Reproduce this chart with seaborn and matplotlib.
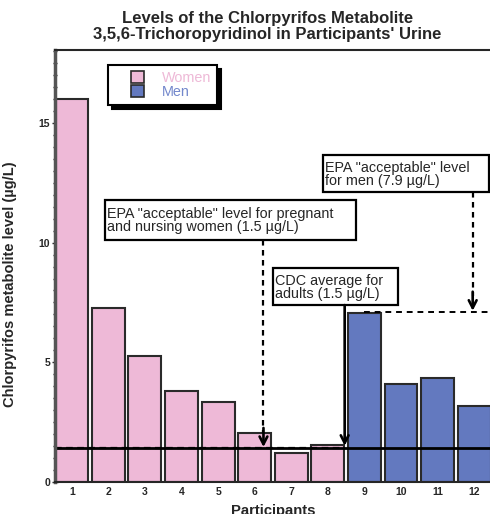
import matplotlib
matplotlib.use("Agg")
import matplotlib.pyplot as plt
import pandas as pd
import seaborn as sns
from matplotlib.legend_handler import HandlerPatch
from matplotlib.patches import Patch, Rectangle
from matplotlib.ticker import MultipleLocator

# values
participants = [str(i) for i in range(1, 13)]
metabolite = [16.0, 7.25, 5.25, 3.8, 3.35, 2.05, 1.2, 1.55, 7.05, 4.1, 4.35, 3.17]
sex = ["Women"] * 8 + ["Men"] * 4
women_level = 1.4      # drawn level of the 1.5 ug/L reference lines
men_level = 7.1        # drawn level of the 7.9 ug/L line

PINK = "#EEB9D7"
BLUE = "#6379BF"

df = pd.DataFrame({"participant": participants, "level": metabolite, "sex": sex})

sns.set_style("ticks")
plt.rcParams["font.family"] = ["Liberation Sans", "DejaVu Sans"]

fig = plt.figure(figsize=(4.9, 5.14), dpi=100)
ax = fig.add_axes([0.1122, 0.0628, 0.8878 + 0.002, 0.8399])

sns.barplot(data=df, x="participant", y="level", hue="sex",
            palette={"Women": PINK, "Men": BLUE}, order=participants,
            width=0.9, dodge=False, saturation=1, edgecolor="#2a2a2a",
            linewidth=1.5, legend=False, ax=ax, zorder=2)

ax.set_xlim(-0.46, 11.46)
ax.set_ylim(0, 18.06)

# reference lines
ax.axhline(women_level, color="black", lw=2, zorder=3)
ax.plot([-0.46, 7.43], [women_level, women_level], color="black", lw=1.6,
        ls=(0, (3, 2)), zorder=4)
ax.plot([7.98, 11.46], [men_level, men_level], color="black", lw=1.4,
        ls=(0, (3, 2.5)), zorder=4)

# annotation boxes: (x0, x1, y0, y1, text, arrow x, arrow tip y, dashed)
notes = [
    (0.91, 7.76, 10.11, 11.79,
     'EPA "acceptable" level for pregnant\nand nursing women (1.5 \u00b5g/L)',
     5.24, women_level + 0.05, True),
    (5.49, 8.91, 7.39, 8.93,
     "CDC average for\nadults (1.5 \u00b5g/L)",
     7.46, women_level + 0.1, False),
    (6.86, 11.40, 12.12, 13.66,
     'EPA "acceptable" level\nfor men (7.9 \u00b5g/L)',
     10.96, men_level + 0.05, True),
]
head = dict(arrowstyle="->,head_length=0.55,head_width=0.28",
            color="black", lw=1.9, shrinkA=0, shrinkB=0)
for x0, x1, y0, y1, txt, ax_x, tip, dashed in notes:
    ax.add_patch(Rectangle((x0, y0), x1 - x0, y1 - y0, facecolor="white",
                           edgecolor="black", lw=1.6, zorder=5))
    ax.text(x0 + 0.06, (y0 + y1) / 2 - 0.03, txt, ha="left", va="center",
            fontsize=10.4, linespacing=0.95, zorder=6)
    if dashed:
        ax.plot([ax_x, ax_x], [y0, tip + 0.6], color="black", lw=1.6,
                ls=(0, (2.5, 2)), zorder=4)
        ax.annotate("", xy=(ax_x, tip), xytext=(ax_x, tip + 0.8),
                    arrowprops=head, zorder=6)
    else:
        ax.annotate("", xy=(ax_x, tip), xytext=(ax_x, y0),
                    arrowprops=head, zorder=6)


# legend swatch: narrow square sitting at the right side of the handle box
def swatch(legend, orig_handle, xdescent, ydescent, width, height, fontsize):
    return Rectangle((-xdescent + 0.56 * width, -ydescent), 0.44 * width, height)


handles = [Patch(facecolor=PINK, edgecolor="#2a2a2a", lw=1.2),
           Patch(facecolor=BLUE, edgecolor="#2a2a2a", lw=1.2)]
leg = ax.legend(handles, ["Women", "Men"], loc="upper left",
                bbox_to_anchor=(108 / 490, 1 - 65 / 514),
                bbox_transform=fig.transFigure, frameon=True, fancybox=False,
                shadow={"ox": 3, "oy": -3, "color": "black", "alpha": 1},
                labelcolor=[PINK, "#7388CC"], fontsize=10.4, labelspacing=0,
                handleheight=0.85, handlelength=2.1, handletextpad=1.2,
                borderpad=0.4, borderaxespad=0, framealpha=1,
                handler_map={Patch: HandlerPatch(patch_func=swatch)})
leg.get_frame().set_edgecolor("black")
leg.get_frame().set_linewidth(1.5)
leg.set_zorder(7)

# axes styling
ax.yaxis.set_major_locator(MultipleLocator(5))
ax.yaxis.set_minor_locator(MultipleLocator(0.5))
ax.tick_params(axis="y", which="major", direction="inout", length=5, width=1,
               labelsize=7.5, pad=1)
ax.tick_params(axis="y", which="minor", direction="inout", length=3, width=1)
ax.tick_params(axis="x", direction="out", length=0, labelsize=7.5, pad=4)
for lab in ax.get_xticklabels() + ax.get_yticklabels():
    lab.set_fontweight("bold")
ax.spines["left"].set_color("#555555")
ax.spines["left"].set_linewidth(2.5)
ax.spines["bottom"].set_linewidth(1.5)
ax.spines["top"].set_linewidth(1.5)
ax.spines["right"].set_visible(False)
for s in ("left", "bottom", "top"):
    ax.spines[s].set_zorder(8)

ax.set_xlabel("Participants", fontsize=10.7, fontweight="bold", labelpad=5)
ax.set_ylabel("Chlorpyrifos metabolite level (\u00b5g/L)", fontsize=10.5,
              fontweight="bold")
ax.yaxis.set_label_coords(-0.088, 0.458)
fig.text(0.546, 1 - 26.5 / 514,
         "Levels of the Chlorpyrifos Metabolite\n"
         "3,5,6-Trichoropyridinol in Participants' Urine",
         ha="center", va="center", fontsize=12, fontweight="bold",
         linespacing=1.0)

fig.savefig("out.png", dpi=100)
